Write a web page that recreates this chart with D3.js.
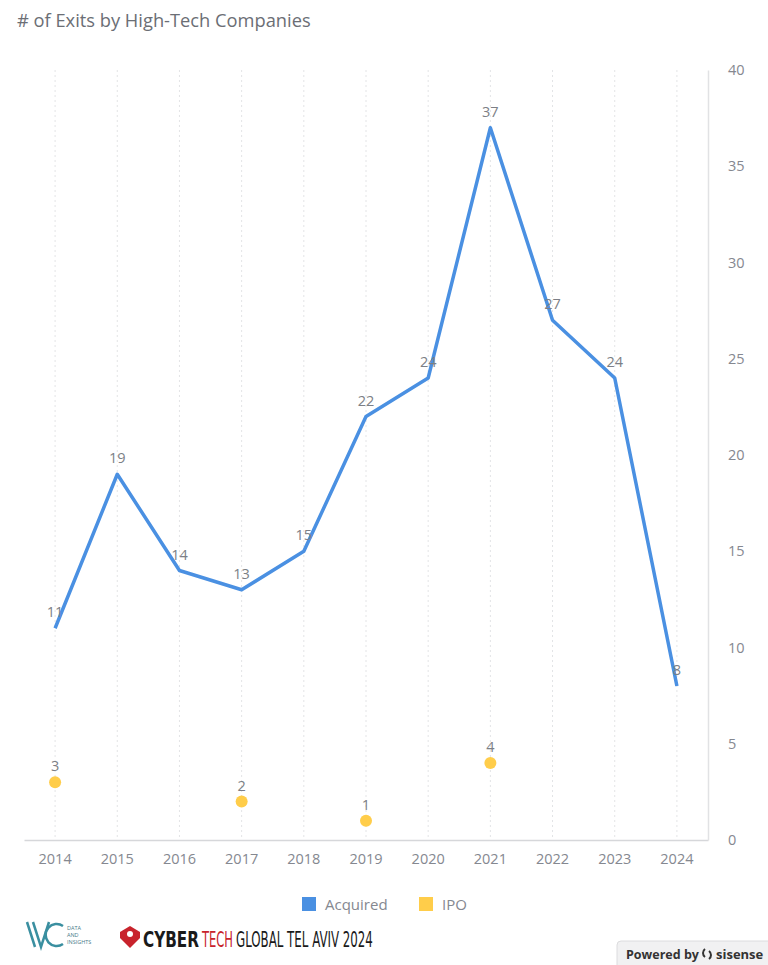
<!DOCTYPE html>
<html>
<head>
<meta charset="utf-8">
<title>exits</title>
<script src="https://d3js.org/d3.v7.min.js"></script>
<style>
  body { margin: 0; background: #fff; font-family: "Open Sans", sans-serif; }
</style>
</head>
<body>
<div id="chart"></div>
<script>
/* chart data */
var years = ["2014", "2015", "2016", "2017", "2018", "2019", "2020", "2021", "2022", "2023", "2024"];
var acquired = [11, 19, 14, 13, 15, 22, 24, 37, 27, 24, 8];
var ipo = [3, null, null, 2, null, 1, null, 4, null, null, null];
var yTicks = [0, 5, 10, 15, 20, 25, 30, 35, 40];
var legendItems = ["Acquired", "IPO"];

var totalWidth = 768, totalHeight = 965,
    plot = {left: 24, right: 708, top: 70, bottom: 840},
    blue = "#4a90e2", yellow = "#ffcd4a", grey = "#858890";

var svg = d3.select("#chart").append("svg")
    .attr("width", totalWidth)
    .attr("height", totalHeight);

/* title */
svg.append("text")
    .attr("x", 17).attr("y", 27)
    .attr("font-size", "18.3px")
    .attr("fill", "#6b6e75")
    .text("# of Exits by High-Tech Companies");

var x = d3.scaleBand().domain(years).range([plot.left, plot.right]).padding(0);
var y = d3.scaleLinear().domain([0, 40]).range([plot.bottom, plot.top]);
var cx = function(d) { return x(d) + x.bandwidth() / 2; };

/* vertical dotted grid */
svg.append("g").selectAll("line")
    .data(years).enter().append("line")
    .attr("x1", cx).attr("x2", cx)
    .attr("y1", plot.top).attr("y2", plot.bottom)
    .attr("stroke", "#e3e4e6")
    .attr("stroke-dasharray", "2,3");

/* x axis */
var xAxis = svg.append("g")
    .attr("transform", "translate(0," + plot.bottom + ")")
    .call(d3.axisBottom(x).tickSize(0).tickPadding(14));
xAxis.select(".domain").attr("stroke", "#d6d7da").attr("stroke-width", 1.5);
xAxis.selectAll("text").attr("font-size", "14.5px").attr("fill", grey)
    .attr("font-family", "Open Sans, sans-serif");

/* y axis on the right */
var yAxis = svg.append("g")
    .attr("transform", "translate(" + plot.right + ",0)")
    .call(d3.axisRight(y).tickValues(yTicks).tickSize(0).tickPadding(20));
yAxis.select(".domain").attr("stroke", "#e1e2e4").attr("stroke-width", 1.5);
yAxis.selectAll("text").attr("font-size", "14.5px").attr("fill", grey)
    .attr("font-family", "Open Sans, sans-serif");

/* acquired line */
var line = d3.line()
    .x(function(d, i) { return cx(years[i]); })
    .y(function(d) { return y(d); });

svg.append("path")
    .datum(acquired)
    .attr("d", line)
    .attr("fill", "none")
    .attr("stroke", blue)
    .attr("stroke-width", 3.5)
    .attr("stroke-linejoin", "round");

svg.append("g").selectAll("text")
    .data(acquired).enter().append("text")
    .attr("x", function(d, i) { return cx(years[i]); })
    .attr("y", function(d) { return y(d) - 11; })
    .attr("text-anchor", "middle")
    .attr("font-size", "14.5px")
    .attr("fill", "#7c7f86")
    .text(function(d) { return d; });

/* IPO points */
var ipoData = ipo.map(function(v, i) { return {year: years[i], v: v}; })
    .filter(function(d) { return d.v !== null; });

svg.append("g").selectAll("circle")
    .data(ipoData).enter().append("circle")
    .attr("cx", function(d) { return cx(d.year); })
    .attr("cy", function(d) { return y(d.v); })
    .attr("r", 6)
    .attr("fill", yellow);

svg.append("g").selectAll("text")
    .data(ipoData).enter().append("text")
    .attr("x", function(d) { return cx(d.year); })
    .attr("y", function(d) { return y(d.v) - 11; })
    .attr("text-anchor", "middle")
    .attr("font-size", "14.5px")
    .attr("fill", "#7c7f86")
    .text(function(d) { return d.v; });

/* legend */
var legendX = [302, 419];
var legend = svg.append("g").selectAll("g")
    .data(legendItems).enter().append("g")
    .attr("transform", function(d, i) { return "translate(" + legendX[i] + ",897)"; });
legend.append("rect")
    .attr("width", 14).attr("height", 14)
    .attr("fill", function(d, i) { return i === 0 ? blue : yellow; });
legend.append("text")
    .attr("x", 23).attr("y", 13)
    .attr("font-size", "15px")
    .attr("fill", grey)
    .text(function(d) { return d; });

/* footer logos (approximation) */
var ivc = svg.append("g").attr("transform", "translate(27,920)");
ivc.append("path")
    .attr("d", "M0,2 L8,27 M6,2 L14,27 L22,2")
    .attr("fill", "none").attr("stroke", "#3a8fa0").attr("stroke-width", 2.5);
ivc.append("path")
    .attr("d", "M36,6 A11,11 0 1,0 36,24")
    .attr("fill", "none").attr("stroke", "#3a8fa0").attr("stroke-width", 2.5);
ivc.selectAll("text.sm")
    .data(["DATA", "AND", "INSIGHTS"]).enter().append("text")
    .attr("x", 40).attr("y", function(d, i) { return 10 + i * 7; })
    .attr("font-size", "5.5px").attr("fill", "#4a7c8a")
    .text(function(d) { return d; });

var shield = svg.append("g").attr("transform", "translate(120,928)");
shield.append("path")
    .attr("d", "M0,4 L10,-2 L20,4 L20,10 L10,20 L0,10 Z")
    .attr("fill", "#c8232c");
shield.append("circle").attr("cx", 10).attr("cy", 6).attr("r", 3).attr("fill", "#fff");

/* wordmark: each part squeezed horizontally into its own slot */
var ctParts = [
  {t: "CYBER", x: 143, w: 56, c: "#1a1a1a", b: "bold"},
  {t: "TECH", x: 202, w: 31, c: "#c8232c", b: "normal"},
  {t: "GLOBAL TEL AVIV 2024", x: 236, w: 137, c: "#1a1a1a", b: "normal"}
];
svg.append("g").selectAll("text")
    .data(ctParts).enter().append("text")
    .attr("font-family", "DejaVu Sans Condensed, Liberation Sans Narrow, sans-serif")
    .attr("font-size", "22px")
    .attr("font-weight", function(d) { return d.b; })
    .attr("fill", function(d) { return d.c; })
    .text(function(d) { return d.t; })
    .attr("transform", function(d) {
      var k = d.w / this.getComputedTextLength();
      return "translate(" + d.x + ",947) scale(" + k + ",1)";
    });

/* powered by sisense */
var pw = svg.append("g").attr("transform", "translate(617,941)");
pw.append("rect")
    .attr("width", 160).attr("height", 30).attr("rx", 4)
    .attr("fill", "#f1f1f2").attr("stroke", "#dcdcde");
pw.append("text")
    .attr("x", 9).attr("y", 18)
    .attr("font-size", "12.5px").attr("font-weight", "bold")
    .attr("fill", "#333")
    .text("Powered by");
pw.append("path")
    .attr("d", "M88,8 A5,5 0 0,0 88,16 M92,10 A5,5 0 0,1 92,18")
    .attr("fill", "none").attr("stroke", "#333").attr("stroke-width", 2);
pw.append("text")
    .attr("x", 99).attr("y", 18)
    .attr("font-size", "13px").attr("font-weight", "bold")
    .attr("fill", "#333")
    .text("sisense");
</script>
</body>
</html>
